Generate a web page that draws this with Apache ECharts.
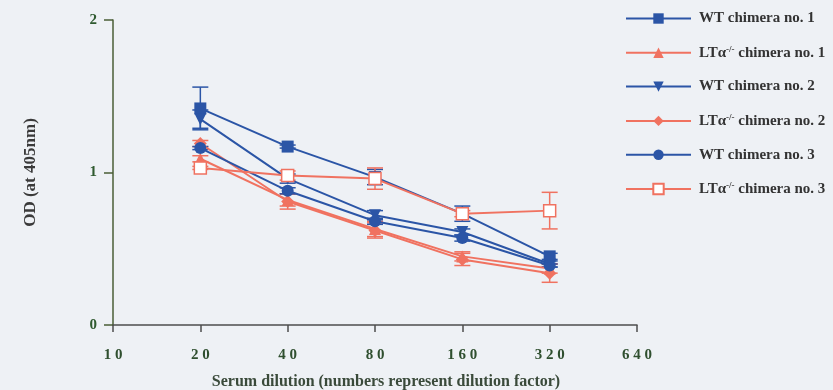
<!DOCTYPE html>
<html><head><meta charset="utf-8">
<script src="https://cdn.jsdelivr.net/npm/echarts@6/dist/echarts.min.js"></script>
<style>html,body{margin:0;padding:0;background:#eef1f5}#c{width:833px;height:390px}</style>
</head><body><div id="c"></div>
<script>
const dilutions = ['10','20','40','80','160','320','640'];
const yTicks = [0,1,2];
const seriesNames = ['WT chimera no. 1','LTα chimera no. 1','WT chimera no. 2','LTα chimera no. 2','WT chimera no. 3','LTα chimera no. 3'];
// values at dilutions 20,40,80,160,320
const wt1 = [1.42, 1.17, 0.97, 0.73, 0.45];
const wt1Err = [0.14, 0.01, 0.05, 0.05, 0.02];
const lt1 = [1.09, 0.82, 0.63, 0.45, 0.37];
const lt1Err = [0.02, 0.04, 0.05, 0.03, 0.03];
const wt2 = [1.35, 0.96, 0.72, 0.61, 0.40];
const wt2Err = [0.06, 0.03, 0.03, 0.02, 0.02];
const lt2 = [1.19, 0.81, 0.62, 0.43, 0.34];
const lt2Err = [0.02, 0.05, 0.05, 0.04, 0.06];
const wt3 = [1.16, 0.88, 0.68, 0.57, 0.39];
const wt3Err = [0.01, 0.02, 0.02, 0.02, 0.01];
const lt3 = [1.03, 0.98, 0.96, 0.73, 0.75];
const lt3Err = [0.01, 0.03, 0.07, 0.02, 0.12];
const xStart = 1; // first measured dilution index (20)

const BLUE = '#2b55a6', RED = '#f07260';
const FONT = '"Liberation Serif","DejaVu Serif",serif';

function pts(vals){ return vals.map((v,i)=>[i+xStart, v]); }
function errs(vals, e){ return vals.map((v,i)=>[i+xStart, v-e[i], v+e[i]]); }

const defs = [
  {name: seriesNames[0], vals: wt1, err: wt1Err, color: BLUE, symbol: 'rect', size: 12},
  {name: seriesNames[1], vals: lt1, err: lt1Err, color: RED, symbol: 'triangle', size: 12},
  {name: seriesNames[2], vals: wt2, err: wt2Err, color: BLUE, symbol: 'path://M0,0 L10,0 L5,9 Z', size: 12},
  {name: seriesNames[3], vals: lt2, err: lt2Err, color: RED, symbol: 'diamond', size: 13},
  {name: seriesNames[4], vals: wt3, err: wt3Err, color: BLUE, symbol: 'circle', size: 12},
  {name: seriesNames[5], vals: lt3, err: lt3Err, color: RED, symbol: 'rect', size: 12, open: true}
];

const series = [];
defs.forEach(d=>{
  series.push({
    type: 'custom', name: d.name + '_err', z: 2, silent: true,
    data: errs(d.vals, d.err),
    renderItem: function(params, api){
      const lo = api.coord([api.value(0), api.value(1)]);
      const hi = api.coord([api.value(0), api.value(2)]);
      const w = 8;
      const st = {stroke: d.color, lineWidth: 1.5};
      return {type:'group', children:[
        {type:'line', shape:{x1:lo[0],y1:lo[1],x2:hi[0],y2:hi[1]}, style: st},
        {type:'line', shape:{x1:lo[0]-w,y1:lo[1],x2:lo[0]+w,y2:lo[1]}, style: st},
        {type:'line', shape:{x1:hi[0]-w,y1:hi[1],x2:hi[0]+w,y2:hi[1]}, style: st}
      ]};
    }
  });
  series.push({
    type: 'line', name: d.name, z: 3,
    data: pts(d.vals),
    symbol: d.symbol, symbolSize: d.size, showAllSymbol: true,
    lineStyle: {color: d.color, width: 2},
    itemStyle: d.open ? {color: '#ffffff', borderColor: d.color, borderWidth: 1.5} : {color: d.color},
    emphasis: {disabled: true},
    animation: false
  });
});

const chart = echarts.init(document.getElementById('c'));
chart.setOption({
  backgroundColor: '#eef1f5',
  animation: false,
  grid: {left: 113, right: 196, top: 20, bottom: 65, outerBoundsMode: 'none', containLabel: false},
  xAxis: {
    type: 'category', data: dilutions, boundaryGap: false,
    axisLine: {lineStyle: {color: '#4d4d4d', width: 1.5}},
    axisTick: {show: true, length: 7, lineStyle: {color: '#4d4d4d', width: 1.5}, alignWithLabel: true},
    axisLabel: {margin: 23, color: '#2f4f2f', fontFamily: FONT, fontWeight: 'bold', fontSize: 15,
      formatter: v => String(v).split('').join(' ')},
    name: 'Serum dilution (numbers represent dilution factor)',
    nameLocation: 'middle', nameGap: 49,
    nameTextStyle: {color: '#3a4a3a', fontFamily: FONT, fontWeight: 'bold', fontSize: 16, padding: [0,0,0,22]}
  },
  yAxis: {
    type: 'value', min: yTicks[0], max: yTicks[yTicks.length-1], interval: 1,
    splitLine: {show: false},
    axisLine: {show: true, onZero: false, lineStyle: {color: '#4a5e36', width: 1.5}},
    axisTick: {show: true, length: 9, lineStyle: {color: '#4a5e36', width: 1.5}},
    axisLabel: {margin: 16, color: '#2f5a2f', fontFamily: FONT, fontWeight: 'bold', fontSize: 15},
    name: 'OD (at 405nm)', nameLocation: 'middle', nameGap: 74,
    nameTextStyle: {color: '#3a3a3a', fontFamily: FONT, fontWeight: 'bold', fontSize: 17, padding: [0,0,0,0]}
  },
  legend: {
    orient: 'vertical', left: 620, top: 6,
    itemWidth: 65, itemHeight: 13, itemGap: 18.8,
    data: defs.map(d=>d.name),
    formatter: function(n){
      if (n.indexOf('LTα') === 0) return 'LTα{sup|-/-}' + n.slice(3);
      return n;
    },
    textStyle: {color: '#333', fontFamily: FONT, fontWeight: 'bold', fontSize: 15, padding: [0,0,0,3],
      rich: {sup: {fontSize: 9, verticalAlign: 'top', padding: [0,0,7,0], color: '#333', fontFamily: FONT, fontWeight: 'bold'}}}
  },
  series: series
});
</script></body></html>
